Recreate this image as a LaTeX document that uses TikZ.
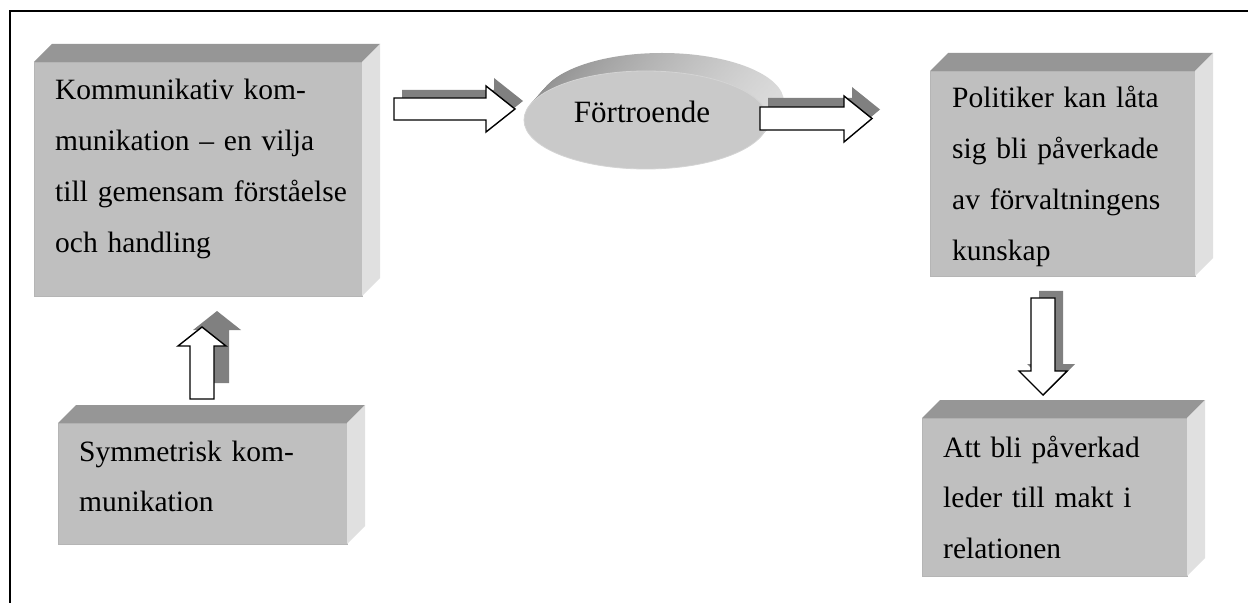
\documentclass[tikz,border=0pt]{standalone}
\usepackage{fontspec}
\setmainfont{Liberation Serif}
\usetikzlibrary{shapes.geometric}
\newcommand\threedfaces[2]{%
  \fill[topface] (#1.north west) -- ([shift={(#2,-#2)}]#1.north west) -- ([shift={(#2,-#2)}]#1.north east) -- (#1.north east) -- cycle;
  \fill[sideface] (#1.north east) -- ([shift={(#2,-#2)}]#1.north east) -- ([shift={(#2,-#2)}]#1.south east) -- (#1.south east) -- cycle;}
\begin{document}
\begin{tikzpicture}[x=1bp,y=-1bp,
  frontface/.style={rectangle, fill=black!25, draw=black!29, line width=0.8bp, anchor=north west, inner sep=0pt, outer sep=0pt},
  topface/.style={fill=black!41},
  sideface/.style={fill=black!12},
  boxtext/.style={anchor=base west, inner sep=0pt, text width=300bp, align=left, font=\fontsize{29.5bp}{50.7bp}\selectfont},
  arrowshadow/.style={fill=black!50},
  blockarrow/.style={fill=white, draw=black, line width=1.4bp, line join=miter},
  arrowA/.style={insert path={(394,98) -- (486,98) -- (486,86) -- (515,109) -- (486,132) -- (486,120) -- (394,120) -- cycle}},
  arrowB/.style={insert path={(760,107) -- (844,107) -- (844,96) -- (872,118.5) -- (844,142) -- (844,130) -- (760,130) -- cycle}},
  arrowC/.style={insert path={(190,399) -- (190,346) -- (178,346) -- (202,327) -- (226,346) -- (214,346) -- (214,399) -- cycle}},
  arrowD/.style={insert path={(1031,298) -- (1055,298) -- (1055,371) -- (1067,371) -- (1043,395) -- (1019,371) -- (1031,371) -- cycle}},
]
\useasboundingbox (0,0) rectangle (1248,603);
\fill[white] (0,0) rectangle (1248,603);
% frame
\coordinate (fr1) at (10,11);
\coordinate (fr2) at (1248,11);
\coordinate (fr3) at (10,603);
\draw[line width=2bp] (fr3) -- (fr1) -- (fr2);

% boxes
\node[frontface, minimum width=328bp, minimum height=234bp] (b1) at (34,62) {};
\threedfaces{b1}{18}
\node[frontface, minimum width=265bp, minimum height=205bp] (b2) at (930,71) {};
\threedfaces{b2}{18}
\node[frontface, minimum width=289bp, minimum height=121bp] (b3) at (58,423) {};
\threedfaces{b3}{18}
\node[frontface, minimum width=265bp, minimum height=158bp] (b4) at (922,418) {};
\threedfaces{b4}{18}

\node[boxtext] (t1) at (55,100) {Kommunikativ kom-\\munikation -- en vilja\\till gemensam förståelse\\och handling};
\node[boxtext] (t2) at (952,108) {Politiker kan låta\\sig bli påverkade\\av förvaltningens\\kunskap};
\node[boxtext] (t3) at (79,461) {Symmetrisk kom-\\munikation};
\node[boxtext] (t4) at (943,457) {Att bli påverkad\\leder till makt i\\relationen};

% ellipse disk
\foreach \t in {1,0.95,...,0.04}
  \shade[left color=black!44, right color=black!14, shift={(16*\t,-18*\t)}] (646,120) ellipse [x radius=122bp, y radius=49bp];
\node[ellipse, fill=black!21, draw=black!17, line width=0.8bp, minimum width=244bp, minimum height=98bp, inner sep=0pt] (e) at (646,120) {};
\node[anchor=base, inner sep=0pt, font=\fontsize{31bp}{36bp}\selectfont] (et) at (642,123) {Förtroende};

% block arrows with shadows
\fill[arrowshadow, shift={(8,-8)}] [arrowA];
\draw[blockarrow] [arrowA];
\fill[arrowshadow, shift={(8,-9)}] [arrowB];
\draw[blockarrow] [arrowB];
\fill[arrowshadow, shift={(15,-16)}] [arrowC];
\draw[blockarrow] [arrowC];
\fill[arrowshadow, shift={(8,-7)}] [arrowD];
\draw[blockarrow] [arrowD];
\end{tikzpicture}
\end{document}
